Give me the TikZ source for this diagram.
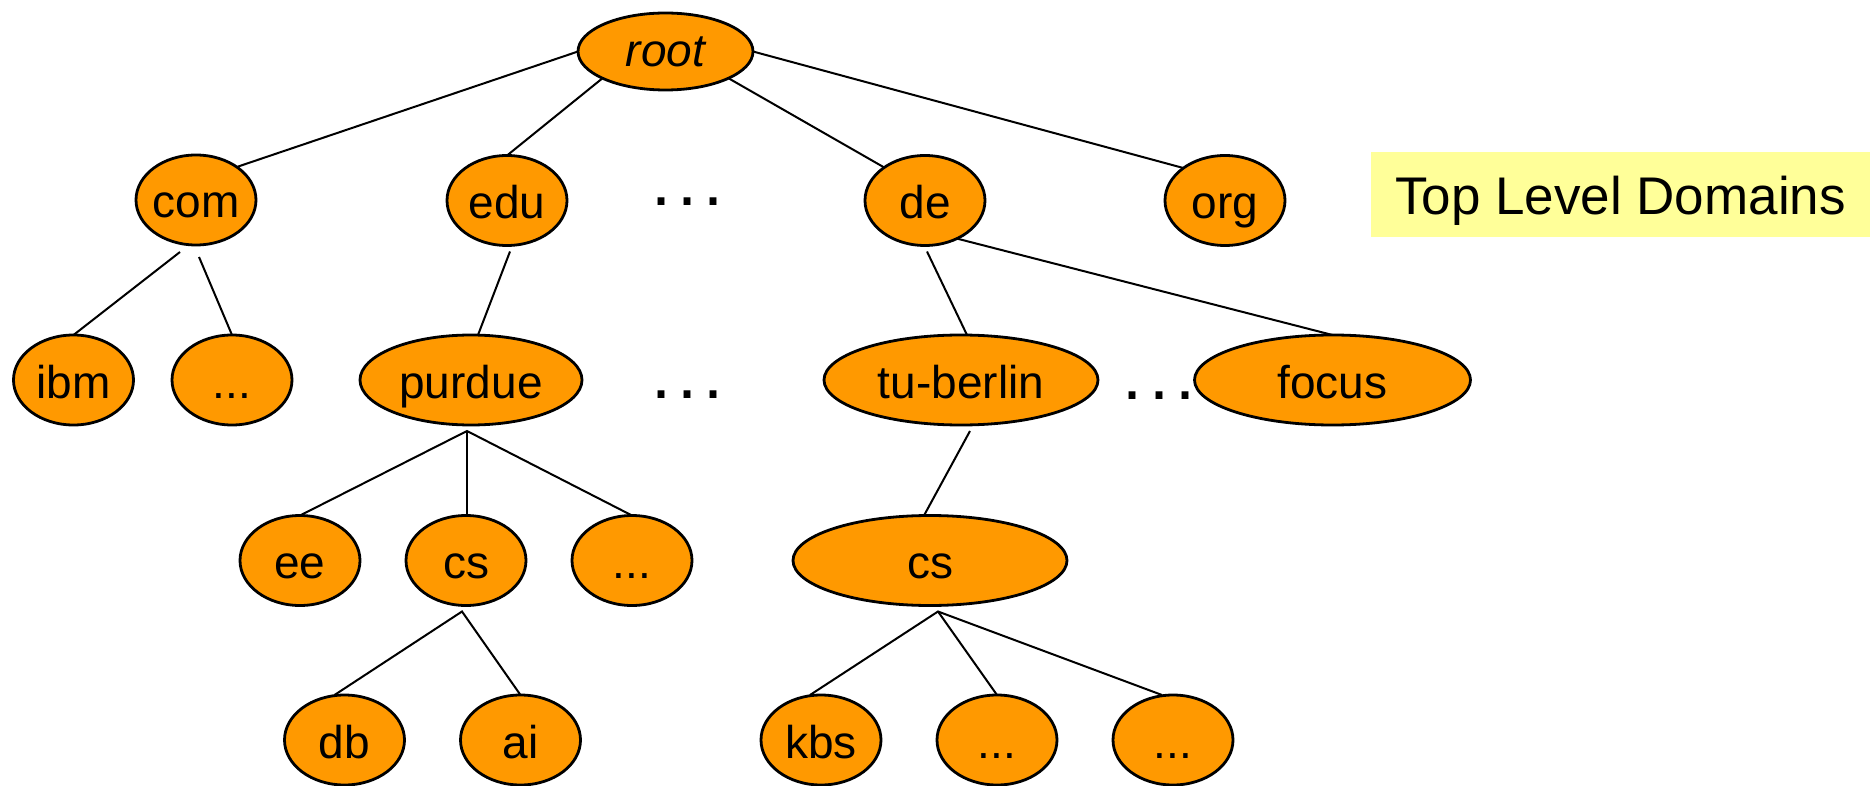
\documentclass[tikz,border=0pt]{standalone}
\usepackage{fontspec}
\setmainfont{Liberation Sans}
\usetikzlibrary{shapes.geometric}
\definecolor{nodeorange}{RGB}{255,153,0}
\definecolor{notebg}{RGB}{255,255,153}

\begin{document}
\begin{tikzpicture}[x=0.5pt,y=-0.5pt,
  dom/.style={ellipse, draw=black, line width=1.4pt, fill=nodeorange,
    inner ysep=0pt, inner xsep=-2pt, outer sep=0pt,
    font=\fontsize{23}{23}\selectfont, text height=18pt, text depth=0pt},
  tld/.style={dom, minimum width=60pt, minimum height=45pt},
  wide/.style={dom, minimum height=45pt},
  link/.style={line width=1pt, line join=miter},
  gap/.style={font=\fontsize{36}{36}\selectfont, inner sep=0pt, anchor=base}]
\useasboundingbox (0,0) rectangle (1874,786);

% root of the name space
\node[dom, minimum width=87.5pt, minimum height=38.5pt, text height=15.5pt,
  font=\fontsize{23}{23}\selectfont\itshape] (root) at (665.5,51.5) {root};

% top level domains
\node[tld] (com) at (196,200) {com};
\node[tld] (edu) at (507,200.5) {edu};
\node[tld] (de)  at (925,200.5) {de};
\node[tld] (org) at (1225,200.5) {org};

% second level
\node[tld] (ibm)   at (73.5,380) {ibm};
\node[tld] (dotsA) at (232,380) {...};
\node[wide, minimum width=111pt] (purdue) at (471,380) {purdue};
\node[wide, minimum width=137pt] (tu)     at (961,380) {tu-berlin};
\node[wide, minimum width=138pt] (focus)  at (1332.5,380) {focus};

% third level
\node[tld] (ee)    at (300,560.5) {ee};
\node[tld] (cs1)   at (466,560.5) {cs};
\node[tld] (dotsB) at (632,560.5) {...};
\node[wide, minimum width=137pt] (cs2) at (930,560.5) {cs};

% fourth level
\node[tld] (db)    at (344.5,740) {db};
\node[tld] (ai)    at (520.5,740) {ai};
\node[tld] (kbs)   at (821,740) {kbs};
\node[tld] (dotsC) at (997,740) {...};
\node[tld] (dotsD) at (1173,740) {...};

% ellipsis marks between siblings
\node[gap] (gap1) at (687.5,205.5) {.\hspace{3.25pt}.\hspace{3.25pt}.};
\node[gap] (gap2) at (687.5,398.6) {.\hspace{3.25pt}.\hspace{3.25pt}.};
\node[gap] (gap3) at (1159,399.6) {.\hspace{3.25pt}.\hspace{3.25pt}.};

% caption box
\node[fill=notebg, minimum width=249.5pt, minimum height=42.5pt, inner sep=0pt,
  font=\fontsize{26.5}{26.5}\selectfont, text height=20.5pt, text depth=0pt]
  (caption) at (1620.5,194.5) {Top Level Domains};

% edges
\draw[link] (root.west) -- (com.39);
\draw[link] (root.203) -- (edu.north);
\draw[link] (root.337) -- (de.141);
\draw[link] (root.east) -- (org.142);

\draw[link] ([shift={(-16,7)}]com.south) -- (ibm.north);
\draw[link] ([shift={(3,12)}]com.south) -- (dotsA.north);
\draw[link] ([shift={(3,6)}]edu.south) -- ([shift={(7,0)}]purdue.north);
\draw[link] ([shift={(2,6)}]de.south) -- ([shift={(6,0)}]tu.north);
\draw[link] (de.-50) -- (focus.north);

\coordinate (pa) at ([shift={(-4,6)}]purdue.south);
\draw[link] (ee.north) -- (pa) -- (dotsB.north);
\draw[link] (pa) -- ([shift={(1,0)}]cs1.north);

\draw[link] ([shift={(9,6)}]tu.south) -- ([shift={(-6,0)}]cs2.north);

\coordinate (ca) at ([shift={(-4,6)}]cs1.south);
\draw[link] ([shift={(-10,0)}]db.north) -- (ca) -- (ai.north);

\coordinate (cb) at ([shift={(8,6)}]cs2.south);
\draw[link] ([shift={(-11,0)}]kbs.north) -- (cb) -- ([shift={(-11,0)}]dotsD.north);
\draw[link] (cb) -- (dotsC.north);
\end{tikzpicture}
\end{document}
